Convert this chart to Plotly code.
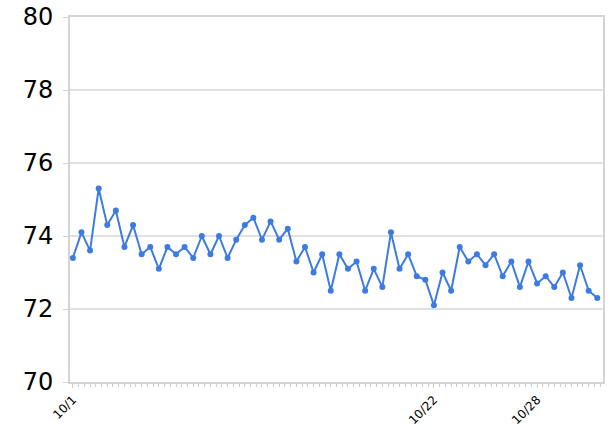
import pandas as pd
import plotly.graph_objects as go

dates = pd.date_range("2023-10-01 00:00", periods=62, freq="12h")
values = [73.4, 74.1, 73.6, 75.3, 74.3, 74.7, 73.7, 74.3, 73.5, 73.7,
          73.1, 73.7, 73.5, 73.7, 73.4, 74.0, 73.5, 74.0, 73.4, 73.9,
          74.3, 74.5, 73.9, 74.4, 73.9, 74.2, 73.3, 73.7, 73.0, 73.5,
          72.5, 73.5, 73.1, 73.3, 72.5, 73.1, 72.6, 74.1, 73.1, 73.5,
          72.9, 72.8, 72.1, 73.0, 72.5, 73.7, 73.3, 73.5, 73.2, 73.5,
          72.9, 73.3, 72.6, 73.3, 72.7, 72.9, 72.6, 73.0, 72.3, 73.2,
          72.5, 72.3]
tick_dates = ["2023-10-01", "2023-10-22", "2023-10-28"]
tick_labels = ["10/1", "10/22", "10/28"]
y_ticks = [70, 72, 74, 76, 78, 80]

fig = go.Figure()
fig.add_trace(go.Scatter(
    x=dates, y=values, mode="lines+markers",
    line=dict(color="#3c7be0", width=2),
    marker=dict(color="#3c7be0", size=6),
    hoverinfo="x+y", showlegend=False,
))

fig.update_layout(
    width=616, height=430,
    margin=dict(l=70, r=13, t=17, b=48),
    paper_bgcolor="white", plot_bgcolor="white",
    font=dict(family="DejaVu Sans", color="#000"),
    xaxis=dict(
        type="date", automargin=False,
        range=["2023-09-30 20:00", "2023-10-31 20:00"],
        tickvals=tick_dates, ticktext=tick_labels,
        tickangle=-45, tickfont=dict(size=12),
        ticks="outside", ticklen=4, tickcolor="#cccccc", tickwidth=1,
        showgrid=False, zeroline=False,
        showline=True, linecolor="#d4d4d4", linewidth=2, mirror=True,
        minor=dict(dtick=8 * 3600 * 1000, tick0="2023-10-01",
                   ticks="outside", ticklen=3, tickcolor="#cccccc",
                   tickwidth=1, showgrid=False),
    ),
    yaxis=dict(
        range=[70, 80], tickvals=y_ticks, automargin=False,
        tickfont=dict(size=24), ticklabelstandoff=5,
        ticks="outside", ticklen=5, tickcolor="#d4d4d4", tickwidth=1,
        showgrid=True, gridcolor="#e0e0e0", gridwidth=2,
        zeroline=False,
        showline=True, linecolor="#d4d4d4", linewidth=2, mirror=True,
    ),
)

fig.write_html("out.html", config={"displayModeBar": False},
               post_script="document.body.style.margin='0';document.body.style.overflow='hidden';")
